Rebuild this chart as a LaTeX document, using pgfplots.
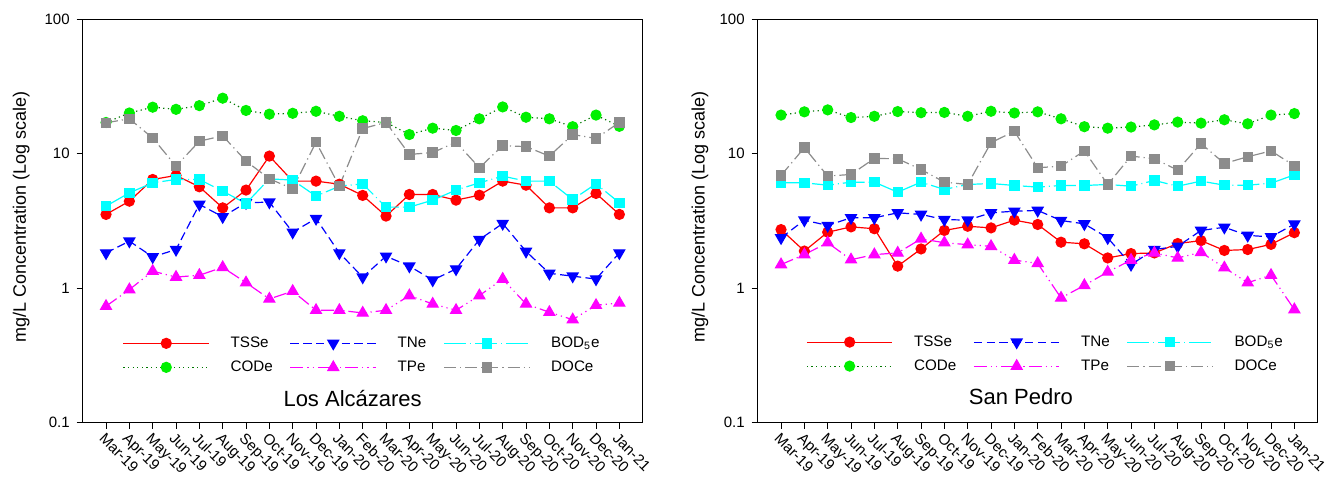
\documentclass[border=0pt]{standalone}
\usepackage{fontspec}
\setmainfont{Liberation Sans}
\usepackage{pgfplots}
\usepackage{pgfplotstable}
\pgfplotsset{compat=1.18}

\definecolor{tssred}{HTML}{FF0000}
\definecolor{codgreen}{HTML}{00F000}
\definecolor{codline}{HTML}{007800}
\definecolor{tnblue}{HTML}{0000FF}
\definecolor{tpmag}{HTML}{FF00FF}
\definecolor{bodcyan}{HTML}{00FFFF}
\definecolor{docgray}{HTML}{8C8C8C}

% month index, then TSSe CODe TNe TPe BOD5e DOCe (mg/L)
\pgfplotstableread{
m tss cod tn tp bod doc
0 3.54 17.1 1.83 0.735 4.08 17.0
1 4.44 20.1 2.24 0.977 5.12 18.2
2 6.44 22.2 1.71 1.34 6.08 13.1
3 6.90 21.4 1.94 1.21 6.44 8.09
4 5.68 22.8 4.20 1.25 6.44 12.4
5 3.96 25.9 3.40 1.43 5.27 13.6
6 5.37 21.0 4.32 1.10 4.27 8.82
7 9.61 19.7 4.37 0.833 6.51 6.51
8 6.26 20.0 2.61 0.95 6.37 5.49
9 6.26 20.7 3.30 0.686 4.84 12.2
10 5.94 19.0 1.83 0.686 5.74 5.74
11 4.90 17.6 1.21 0.655 5.98 15.4
12 3.44 17.1 1.73 0.686 4.01 17.1
13 4.98 13.9 1.46 0.882 4.01 9.89
14 4.98 15.5 1.15 0.764 4.52 10.2
15 4.52 14.9 1.39 0.686 5.37 12.2
16 4.92 18.2 2.30 0.882 6.08 7.87
17 6.26 22.3 3.03 1.17 6.82 11.5
18 5.84 18.7 1.88 0.764 6.26 11.3
19 3.96 18.2 1.29 0.663 6.26 9.61
20 3.96 15.9 1.23 0.584 4.57 13.9
21 5.07 19.4 1.17 0.747 5.98 13.0
22 3.54 16.0 1.83 0.778 4.32 17.1
}\alcazares

\pgfplotstableread{
m tss cod tn tp bod doc
0 2.73 19.4 2.37 1.50 6.08 6.90
1 1.89 20.5 3.21 1.78 6.08 11.1
2 2.61 21.2 2.93 2.18 5.84 6.82
3 2.86 18.6 3.34 1.63 6.15 7.02
4 2.77 19.0 3.34 1.78 6.15 9.23
5 1.46 20.6 3.64 1.83 5.18 9.18
6 1.96 20.2 3.54 2.33 6.15 7.64
7 2.69 20.3 3.24 2.18 5.43 6.15
8 2.89 19.0 3.21 2.11 5.91 5.91
9 2.81 20.7 3.64 2.05 6.01 12.1
10 3.21 20.1 3.74 1.62 5.81 14.7
11 2.98 20.5 3.79 1.53 5.65 7.87
12 2.20 18.2 3.19 0.847 5.81 8.09
13 2.14 15.9 3.01 1.05 5.81 10.5
14 1.68 15.5 2.37 1.32 5.91 5.91
15 1.81 15.8 1.50 1.62 5.74 9.61
16 1.83 16.4 1.94 1.83 6.33 9.18
17 2.15 17.2 2.05 1.68 5.74 7.56
18 2.26 16.9 2.69 1.85 6.26 11.9
19 1.91 17.9 2.84 1.42 5.84 8.47
20 1.94 16.7 2.47 1.10 5.84 9.50
21 2.12 19.4 2.41 1.25 6.04 10.5
22 2.59 19.9 3.00 0.694 6.97 8.14
}\sanpedro

\pgfplotsset{
  /pgfplots/sitepanel/.style={
    scale only axis,
    width=280pt, height=201.7pt,
    xmin=-1, xmax=23,
    ymin=0.1, ymax=100,
    ytick={0.1,1,10,100},
    yticklabels={0.1,1,10,100},
    yminorticks=false,
    xtick={0,...,22},
    xticklabels={Mar-19,Apr-19,May-19,Jun-19,Jul-19,Aug-19,Sep-19,Oct-19,Nov-19,Dec-19,Jan-20,Feb-20,Mar-20,Apr-20,May-20,Jun-20,Jul-20,Aug-20,Sep-20,Oct-20,Nov-20,Dec-20,Jan-21},
    tick align=outside,
    tick pos=left,
    major tick length=3pt,
    tick style={black, line width=0.5pt},
    axis line style={line width=0.6pt},
    tick label style={font=\fontsize{7.5}{9}\selectfont},
    xticklabel style={rotate=-45, anchor=north west, inner sep=1pt},
    ylabel={mg/L Concentration (Log scale)},
    ylabel style={font=\fontsize{9}{11}\selectfont},
    legend columns=3,
    legend style={
      draw=none, fill=none, inner sep=0pt,
      font=\fontsize{7.6}{9}\selectfont,
      anchor=west,
      nodes={inner sep=1pt, text height=6pt, text depth=2pt},
      /tikz/row sep=2pt,
      /tikz/every odd column/.append style={column sep=9.5pt},
      /tikz/every even column/.append style={column sep=7.5pt},
    },
    legend cell align=left,
    legend image code/.code={
      \draw[mark repeat=2, mark phase=2] plot coordinates {(0pt,0pt) (21.4pt,0pt) (42.8pt,0pt)};
    },
  },
  /pgfplots/sTSS/.style={draw=tssred, solid, line width=0.6pt, mark=*, mark size=2.5pt,
    mark options={solid, fill=tssred, draw=tssred}},
  /pgfplots/sTN/.style={draw=tnblue, dash pattern=on 4.2pt off 2.2pt, line width=0.6pt,
    mark=triangle*, mark size=3.1pt, mark options={solid, rotate=180, fill=tnblue, draw=tnblue}},
  /pgfplots/sBOD/.style={draw=bodcyan, dash pattern=on 11pt off 2pt on 0.5pt off 2pt, line width=0.6pt,
    mark=square*, mark size=2.3pt, mark options={solid, fill=bodcyan, draw=bodcyan}},
  /pgfplots/sCOD/.style={draw=codline, dash pattern=on 0.6pt off 1.7pt, line width=0.6pt,
    mark=*, mark size=2.5pt, mark options={solid, fill=codgreen, draw=codgreen}},
  /pgfplots/sTP/.style={draw=tpmag, dash pattern=on 6.5pt off 2pt on 0.6pt off 2pt on 0.6pt off 2pt, line width=0.6pt,
    mark=triangle*, mark size=3.1pt, mark options={solid, fill=tpmag, draw=tpmag}},
  /pgfplots/sDOC/.style={draw=docgray, dash pattern=on 6pt off 2pt on 0.6pt off 2pt, line width=0.6pt,
    mark=square*, mark size=2.3pt, mark options={solid, fill=docgray, draw=docgray}},
}

\begin{document}
\begin{tikzpicture}
\path[use as bounding box] (-41.35pt,-27.15pt) rectangle (628.65pt,211.35pt);

% ---------------- Los Alcazares ----------------
\begin{semilogyaxis}[sitepanel, at={(0pt,0pt)}, anchor=south west,
  ylabel style={at={(axis description cs:-0.11,0.51)}, anchor=center},
  legend style={at={(axis description cs:0.071,0.167)}}]
\addplot[sTSS] table[x=m, y=tss] {\alcazares};
\addlegendentry{TSSe}
\addplot[sTN] table[x=m, y=tn] {\alcazares};
\addlegendentry{TNe}
\addplot[sBOD] table[x=m, y=bod] {\alcazares};
\addlegendentry{BOD\textsubscript{5}e}
\addplot[sCOD] table[x=m, y=cod] {\alcazares};
\addlegendentry{CODe}
\addplot[sTP] table[x=m, y=tp] {\alcazares};
\addlegendentry{TPe}
\addplot[sDOC] table[x=m, y=doc] {\alcazares};
\addlegendentry{DOCe}
\node[font=\fontsize{11}{13}\selectfont] at (rel axis cs:0.482,0.061) {Los Alcázares};
\end{semilogyaxis}

% ---------------- San Pedro ----------------
\begin{semilogyaxis}[sitepanel, at={(337.5pt,0pt)}, anchor=south west,
  ylabel style={at={(axis description cs:-0.103,0.51)}, anchor=center},
  legend style={at={(axis description cs:0.086,0.17)}}]
\addplot[sTSS] table[x=m, y=tss] {\sanpedro};
\addlegendentry{TSSe}
\addplot[sTN] table[x=m, y=tn] {\sanpedro};
\addlegendentry{TNe}
\addplot[sBOD] table[x=m, y=bod] {\sanpedro};
\addlegendentry{BOD\textsubscript{5}e}
\addplot[sCOD] table[x=m, y=cod] {\sanpedro};
\addlegendentry{CODe}
\addplot[sTP] table[x=m, y=tp] {\sanpedro};
\addlegendentry{TPe}
\addplot[sDOC] table[x=m, y=doc] {\sanpedro};
\addlegendentry{DOCe}
\node[font=\fontsize{11}{13}\selectfont] at (rel axis cs:0.47,0.064) {San Pedro};
\end{semilogyaxis}
\end{tikzpicture}
\end{document}
